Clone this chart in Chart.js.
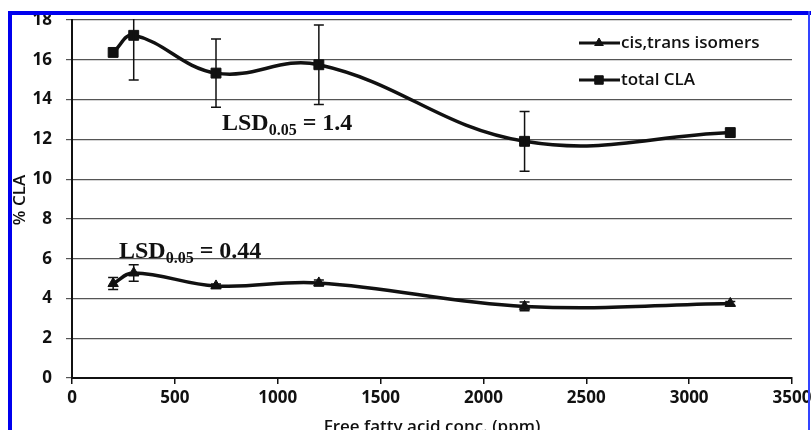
<!DOCTYPE html>
<html>
<head>
<meta charset="utf-8">
<script src="https://cdn.jsdelivr.net/npm/chart.js@4/dist/chart.umd.min.js"></script>
<style>
  html, body { margin: 0; padding: 0; background: #fff; }
  #wrap { width: 811px; height: 430px; position: relative; }
</style>
</head>
<body>
<div id="wrap"><canvas id="grafico" width="811" height="430"></canvas></div>
<script>
// dati
var concentrazioni = [200, 300, 700, 1200, 2200, 3200];
var cisTrans = [4.75, 5.28, 4.63, 4.78, 3.6, 3.75];
var cisTransErr = [0.3, 0.42, 0.1, 0.15, 0.22, 0.1];
var totaleCLA = [16.37, 17.23, 15.33, 15.75, 11.9, 12.34];
var totaleCLAErr = [0, 2.25, 1.72, 2.0, 1.5, 0];
var tickY = [0, 2, 4, 6, 8, 10, 12, 14, 16, 18];
var tickX = [0, 500, 1000, 1500, 2000, 2500, 3000, 3500];

function punti(valori) {
    var out = [];
    for (var i = 0; i < concentrazioni.length; i++) {
        out.push({ x: concentrazioni[i], y: valori[i] });
    }
    return out;
}

var fontTick = { family: 'Open Sans', size: 17, weight: 'bold' };

// barre di errore
var barreErrore = {
    id: 'barreErrore',
    afterDatasetsDraw: function (chart) {
        var ctx = chart.ctx;
        var sx = chart.scales.x, sy = chart.scales.y;
        var a = chart.chartArea;
        ctx.save();
        ctx.beginPath();
        ctx.rect(a.left, a.top - 1, a.right - a.left, a.bottom - a.top + 2);
        ctx.clip();
        ctx.strokeStyle = '#111';
        ctx.lineWidth = 1.5;
        chart.data.datasets.forEach(function (ds) {
            for (var i = 0; i < ds.data.length; i++) {
                var e = ds.errori[i];
                if (!e) continue;
                var px = sx.getPixelForValue(ds.data[i].x);
                var top = sy.getPixelForValue(ds.data[i].y + e);
                var bot = sy.getPixelForValue(ds.data[i].y - e);
                ctx.beginPath();
                ctx.moveTo(px, top); ctx.lineTo(px, bot);
                ctx.moveTo(px - 5, top); ctx.lineTo(px + 5, top);
                ctx.moveTo(px - 5, bot); ctx.lineTo(px + 5, bot);
                ctx.stroke();
            }
        });
        ctx.restore();
    }
};

function scriviLSD(ctx, x, y, valore) {
    ctx.font = 'bold 24px "Liberation Serif"';
    ctx.fillText('LSD', x, y);
    var w = ctx.measureText('LSD').width;
    ctx.font = 'bold 16px "Liberation Serif"';
    ctx.fillText('0.05', x + w, y + 5);
    var w2 = ctx.measureText('0.05').width;
    ctx.font = 'bold 24px "Liberation Serif"';
    ctx.fillText(' = ' + valore, x + w + w2, y);
}

// legenda, testi e cornice blu
var decorazioni = {
    id: 'decorazioni',
    afterDraw: function (chart) {
        var ctx = chart.ctx;
        ctx.save();
        ctx.fillStyle = '#111';
        ctx.textBaseline = 'alphabetic';
        ctx.textAlign = 'left';
        scriviLSD(ctx, 222, 130, '1.4');
        scriviLSD(ctx, 119, 258, '0.44');

        // legenda
        var voci = [
            { testo: 'cis,trans isomers', stile: 'triangle', r: 5, y: 43 },
            { testo: 'total CLA', stile: 'rect', r: 6, y: 80 }
        ];
        voci.forEach(function (v) {
            ctx.strokeStyle = '#111';
            ctx.fillStyle = '#111';
            ctx.lineWidth = 3;
            ctx.beginPath();
            ctx.moveTo(579, v.y); ctx.lineTo(620, v.y);
            ctx.stroke();
            ctx.lineWidth = 1;
            Chart.helpers.drawPoint(ctx, { pointStyle: v.stile, rotation: 0, radius: v.r, borderWidth: 1 }, 599, v.y);
            ctx.font = '600 17px "Open Sans"';
            ctx.textBaseline = 'middle';
            ctx.fillText(v.testo, 621, v.y);
        });

        // titoli assi
        ctx.fillStyle = '#111';
        ctx.font = '600 17px "Open Sans"';
        ctx.textAlign = 'center';
        ctx.textBaseline = 'alphabetic';
        ctx.fillText('Free fatty acid conc. (ppm)', 432, 432);
        ctx.translate(25, 200);
        ctx.rotate(-Math.PI / 2);
        ctx.fillText('% CLA', 0, 0);
        ctx.setTransform(1, 0, 0, 1, 0, 0);

        // cornice
        ctx.fillStyle = '#0000ee';
        ctx.fillRect(8, 11, 803, 4);
        ctx.fillRect(8, 11, 4, 419);
        ctx.fillStyle = '#3344ff';
        ctx.fillRect(808, 11, 2, 419);
        ctx.restore();
    }
};

var ctx = document.getElementById('grafico');
var chart = new Chart(ctx, {
    type: 'line',
    data: {
        datasets: [{
            label: 'cis,trans isomers',
            data: punti(cisTrans),
            errori: cisTransErr,
            borderColor: '#111',
            backgroundColor: '#111',
            borderWidth: 3.5,
            tension: 0.4,
            pointStyle: 'triangle',
            pointRadius: 6,
            pointBorderWidth: 1
        }, {
            label: 'total CLA',
            data: punti(totaleCLA),
            errori: totaleCLAErr,
            borderColor: '#111',
            backgroundColor: '#111',
            borderWidth: 3.5,
            tension: 0.4,
            pointStyle: 'rect',
            pointRadius: 7,
            pointBorderWidth: 1
        }]
    },
    options: {
        responsive: false,
        animation: false,
        devicePixelRatio: 1,
        layout: { padding: { left: 0, right: 19, top: 20, bottom: 0 } },
        plugins: { legend: { display: false }, tooltip: { enabled: false } },
        scales: {
            x: {
                type: 'linear',
                min: tickX[0], max: tickX[tickX.length - 1],
                afterFit: function (s) { s.height = 52; s.paddingRight = 0; s.paddingLeft = 0; },
                grid: { drawOnChartArea: false, drawTicks: true, tickLength: 6, color: '#111', lineWidth: 1.5 },
                border: { color: '#111', width: 2 },
                ticks: {
                    font: fontTick, color: '#111', padding: 4, maxRotation: 0,
                    stepSize: tickX[1] - tickX[0], autoSkip: false,
                    callback: function (v) { return String(v); }
                }
            },
            y: {
                min: tickY[0], max: tickY[tickY.length - 1],
                afterFit: function (s) { s.width = 72; s.paddingTop = 0; s.paddingBottom = 0; },
                grid: { color: '#555', lineWidth: 1.2, drawTicks: true, tickLength: 6 },
                border: { color: '#111', width: 2 },
                ticks: {
                    font: fontTick, color: '#111', padding: 14,
                    stepSize: tickY[1] - tickY[0], autoSkip: false,
                    callback: function (v) { return String(v); }
                }
            }
        }
    },
    plugins: [barreErrore, decorazioni]
});
</script>
</body>
</html>
